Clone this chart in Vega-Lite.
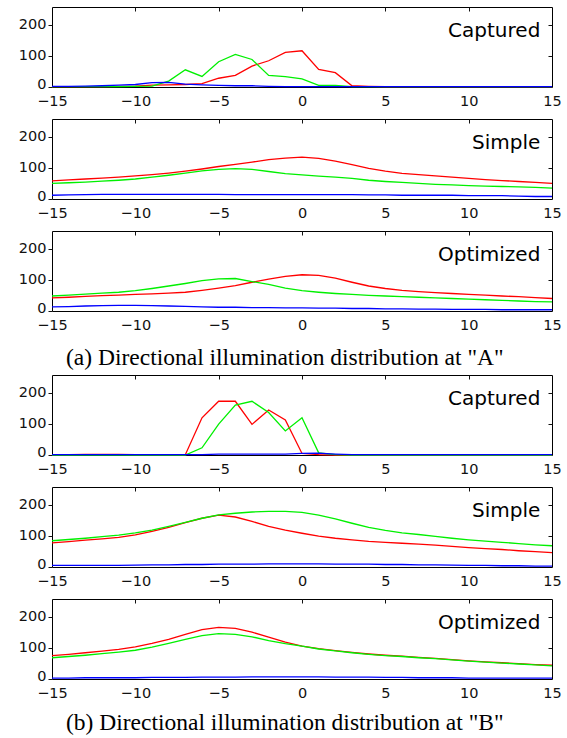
{
"$schema": "https://vega.github.io/schema/vega-lite/v6.json",
"background": "white",
"padding": {"top": 6, "left": 17, "right": 5, "bottom": 2},
"config": {
  "view": {"stroke": "black", "strokeWidth": 1},
  "axis": {"labelFont": "DejaVu Sans", "labelFontSize": 14.5, "labelColor": "#111", "tickColor": "#111", "domain": false, "grid": false, "labelFlush": false, "labelOverlap": false},
  "axisLeft": {"labelOffset": {"condition": {"test": "datum.value === 0", "value": -3}, "value": 0}},
  "line": {"strokeWidth": 1.3}
},
"datasets": {"d": [
{"p":"A1","a":-15,"r":1,"g":1,"b":2},{"p":"A1","a":-14,"r":1,"g":1,"b":2},{"p":"A1","a":-13,"r":1,"g":1,"b":3},{"p":"A1","a":-12,"r":1,"g":1,"b":4},{"p":"A1","a":-11,"r":2,"g":1,"b":6},{"p":"A1","a":-10,"r":3,"g":2,"b":8},{"p":"A1","a":-9,"r":6,"g":3,"b":14},{"p":"A1","a":-8,"r":7,"g":19,"b":15},{"p":"A1","a":-7,"r":8,"g":55,"b":9},{"p":"A1","a":-6,"r":11,"g":34,"b":7},{"p":"A1","a":-5,"r":28,"g":81,"b":5},{"p":"A1","a":-4,"r":37,"g":104,"b":4},{"p":"A1","a":-3,"r":67,"g":88,"b":4},{"p":"A1","a":-2,"r":84,"g":37,"b":2},{"p":"A1","a":-1,"r":111,"g":33,"b":1},{"p":"A1","a":0,"r":116,"g":26,"b":1},{"p":"A1","a":1,"r":56,"g":5,"b":1},{"p":"A1","a":2,"r":46,"g":5,"b":1},{"p":"A1","a":3,"r":4,"g":1,"b":1},{"p":"A1","a":4,"r":2,"g":1,"b":1},{"p":"A1","a":5,"r":1,"g":1,"b":1},{"p":"A1","a":6,"r":1,"g":1,"b":1},{"p":"A1","a":7,"r":1,"g":1,"b":1},{"p":"A1","a":8,"r":1,"g":1,"b":1},{"p":"A1","a":9,"r":1,"g":1,"b":1},{"p":"A1","a":10,"r":1,"g":1,"b":1},{"p":"A1","a":11,"r":1,"g":1,"b":1},{"p":"A1","a":12,"r":1,"g":1,"b":1},{"p":"A1","a":13,"r":1,"g":1,"b":1},{"p":"A1","a":14,"r":1,"g":1,"b":1},{"p":"A1","a":15,"r":1,"g":1,"b":1},
{"p":"A2","a":-15,"r":58,"g":50,"b":12},{"p":"A2","a":-14,"r":61,"g":52,"b":13},{"p":"A2","a":-13,"r":64,"g":54,"b":14},{"p":"A2","a":-12,"r":67,"g":57,"b":15},{"p":"A2","a":-11,"r":70,"g":60,"b":15},{"p":"A2","a":-10,"r":74,"g":64,"b":15},{"p":"A2","a":-9,"r":78,"g":70,"b":15},{"p":"A2","a":-8,"r":83,"g":76,"b":15},{"p":"A2","a":-7,"r":89,"g":83,"b":15},{"p":"A2","a":-6,"r":96,"g":90,"b":15},{"p":"A2","a":-5,"r":104,"g":95,"b":15},{"p":"A2","a":-4,"r":111,"g":97,"b":14},{"p":"A2","a":-3,"r":118,"g":95,"b":14},{"p":"A2","a":-2,"r":126,"g":88,"b":14},{"p":"A2","a":-1,"r":131,"g":81,"b":14},{"p":"A2","a":0,"r":134,"g":77,"b":14},{"p":"A2","a":1,"r":130,"g":73,"b":14},{"p":"A2","a":2,"r":121,"g":70,"b":14},{"p":"A2","a":3,"r":110,"g":66,"b":14},{"p":"A2","a":4,"r":98,"g":60,"b":13},{"p":"A2","a":5,"r":89,"g":56,"b":13},{"p":"A2","a":6,"r":82,"g":53,"b":12},{"p":"A2","a":7,"r":78,"g":50,"b":12},{"p":"A2","a":8,"r":74,"g":47,"b":12},{"p":"A2","a":9,"r":70,"g":45,"b":12},{"p":"A2","a":10,"r":66,"g":43,"b":11},{"p":"A2","a":11,"r":62,"g":41,"b":11},{"p":"A2","a":12,"r":59,"g":40,"b":11},{"p":"A2","a":13,"r":56,"g":39,"b":9},{"p":"A2","a":14,"r":53,"g":37,"b":8},{"p":"A2","a":15,"r":50,"g":35,"b":8},
{"p":"A3","a":-15,"r":42,"g":48,"b":13},{"p":"A3","a":-14,"r":44,"g":51,"b":14},{"p":"A3","a":-13,"r":47,"g":54,"b":16},{"p":"A3","a":-12,"r":49,"g":57,"b":17},{"p":"A3","a":-11,"r":51,"g":60,"b":18},{"p":"A3","a":-10,"r":53,"g":65,"b":18},{"p":"A3","a":-9,"r":55,"g":72,"b":17},{"p":"A3","a":-8,"r":57,"g":80,"b":16},{"p":"A3","a":-7,"r":60,"g":88,"b":15},{"p":"A3","a":-6,"r":66,"g":97,"b":13},{"p":"A3","a":-5,"r":73,"g":103,"b":12},{"p":"A3","a":-4,"r":81,"g":104,"b":12},{"p":"A3","a":-3,"r":92,"g":94,"b":11},{"p":"A3","a":-2,"r":102,"g":85,"b":11},{"p":"A3","a":-1,"r":111,"g":73,"b":10},{"p":"A3","a":0,"r":116,"g":65,"b":10},{"p":"A3","a":1,"r":114,"g":60,"b":9},{"p":"A3","a":2,"r":105,"g":56,"b":9},{"p":"A3","a":3,"r":92,"g":53,"b":8},{"p":"A3","a":4,"r":80,"g":50,"b":8},{"p":"A3","a":5,"r":72,"g":48,"b":7},{"p":"A3","a":6,"r":66,"g":46,"b":7},{"p":"A3","a":7,"r":62,"g":44,"b":6},{"p":"A3","a":8,"r":59,"g":42,"b":6},{"p":"A3","a":9,"r":56,"g":40,"b":5},{"p":"A3","a":10,"r":53,"g":38,"b":5},{"p":"A3","a":11,"r":51,"g":36,"b":5},{"p":"A3","a":12,"r":48,"g":34,"b":4},{"p":"A3","a":13,"r":46,"g":32,"b":4},{"p":"A3","a":14,"r":43,"g":30,"b":4},{"p":"A3","a":15,"r":40,"g":29,"b":4},
{"p":"B1","a":-15,"r":1,"g":0,"b":1},{"p":"B1","a":-14,"r":1,"g":0,"b":1},{"p":"B1","a":-13,"r":2,"g":0,"b":1},{"p":"B1","a":-12,"r":2,"g":0,"b":1},{"p":"B1","a":-11,"r":2,"g":0,"b":1},{"p":"B1","a":-10,"r":1,"g":0,"b":1},{"p":"B1","a":-9,"r":1,"g":0,"b":1},{"p":"B1","a":-8,"r":1,"g":0,"b":1},{"p":"B1","a":-7,"r":1,"g":0,"b":1},{"p":"B1","a":-6,"r":119,"g":23,"b":1},{"p":"B1","a":-5,"r":172,"g":99,"b":3},{"p":"B1","a":-4,"r":172,"g":160,"b":3},{"p":"B1","a":-3,"r":98,"g":172,"b":3},{"p":"B1","a":-2,"r":144,"g":136,"b":3},{"p":"B1","a":-1,"r":112,"g":77,"b":3},{"p":"B1","a":0,"r":5,"g":119,"b":5},{"p":"B1","a":1,"r":1,"g":7,"b":6},{"p":"B1","a":2,"r":0,"g":1,"b":3},{"p":"B1","a":3,"r":0,"g":0,"b":1},{"p":"B1","a":4,"r":0,"g":0,"b":1},{"p":"B1","a":5,"r":0,"g":0,"b":1},{"p":"B1","a":6,"r":0,"g":0,"b":1},{"p":"B1","a":7,"r":0,"g":0,"b":1},{"p":"B1","a":8,"r":0,"g":0,"b":1},{"p":"B1","a":9,"r":0,"g":0,"b":1},{"p":"B1","a":10,"r":0,"g":0,"b":1},{"p":"B1","a":11,"r":0,"g":0,"b":1},{"p":"B1","a":12,"r":0,"g":0,"b":1},{"p":"B1","a":13,"r":0,"g":0,"b":1},{"p":"B1","a":14,"r":0,"g":0,"b":1},{"p":"B1","a":15,"r":0,"g":0,"b":1},
{"p":"B2","a":-15,"r":77,"g":84,"b":5},{"p":"B2","a":-14,"r":81,"g":88,"b":5},{"p":"B2","a":-13,"r":86,"g":92,"b":5},{"p":"B2","a":-12,"r":90,"g":97,"b":5},{"p":"B2","a":-11,"r":95,"g":102,"b":5},{"p":"B2","a":-10,"r":103,"g":109,"b":6},{"p":"B2","a":-9,"r":114,"g":118,"b":7},{"p":"B2","a":-8,"r":127,"g":130,"b":7},{"p":"B2","a":-7,"r":142,"g":143,"b":8},{"p":"B2","a":-6,"r":156,"g":156,"b":8},{"p":"B2","a":-5,"r":166,"g":167,"b":9},{"p":"B2","a":-4,"r":160,"g":172,"b":9},{"p":"B2","a":-3,"r":146,"g":176,"b":9},{"p":"B2","a":-2,"r":130,"g":178,"b":10},{"p":"B2","a":-1,"r":118,"g":178,"b":10},{"p":"B2","a":0,"r":108,"g":175,"b":10},{"p":"B2","a":1,"r":99,"g":166,"b":10},{"p":"B2","a":2,"r":92,"g":154,"b":9},{"p":"B2","a":3,"r":87,"g":140,"b":9},{"p":"B2","a":4,"r":82,"g":127,"b":9},{"p":"B2","a":5,"r":79,"g":117,"b":8},{"p":"B2","a":6,"r":76,"g":109,"b":8},{"p":"B2","a":7,"r":73,"g":104,"b":7},{"p":"B2","a":8,"r":70,"g":98,"b":7},{"p":"B2","a":9,"r":66,"g":92,"b":6},{"p":"B2","a":10,"r":62,"g":87,"b":5},{"p":"B2","a":11,"r":59,"g":83,"b":5},{"p":"B2","a":12,"r":56,"g":79,"b":4},{"p":"B2","a":13,"r":52,"g":75,"b":4},{"p":"B2","a":14,"r":49,"g":71,"b":3},{"p":"B2","a":15,"r":46,"g":68,"b":3},
{"p":"B3","a":-15,"r":75,"g":68,"b":3},{"p":"B3","a":-14,"r":79,"g":72,"b":3},{"p":"B3","a":-13,"r":84,"g":76,"b":4},{"p":"B3","a":-12,"r":89,"g":81,"b":4},{"p":"B3","a":-11,"r":95,"g":86,"b":4},{"p":"B3","a":-10,"r":103,"g":92,"b":4},{"p":"B3","a":-9,"r":114,"g":102,"b":5},{"p":"B3","a":-8,"r":127,"g":114,"b":5},{"p":"B3","a":-7,"r":143,"g":127,"b":5},{"p":"B3","a":-6,"r":158,"g":139,"b":6},{"p":"B3","a":-5,"r":165,"g":145,"b":6},{"p":"B3","a":-4,"r":162,"g":143,"b":6},{"p":"B3","a":-3,"r":150,"g":135,"b":7},{"p":"B3","a":-2,"r":134,"g":123,"b":7},{"p":"B3","a":-1,"r":118,"g":113,"b":7},{"p":"B3","a":0,"r":105,"g":105,"b":7},{"p":"B3","a":1,"r":97,"g":96,"b":7},{"p":"B3","a":2,"r":91,"g":90,"b":6},{"p":"B3","a":3,"r":85,"g":84,"b":6},{"p":"B3","a":4,"r":80,"g":79,"b":6},{"p":"B3","a":5,"r":76,"g":75,"b":5},{"p":"B3","a":6,"r":73,"g":72,"b":5},{"p":"B3","a":7,"r":69,"g":68,"b":4},{"p":"B3","a":8,"r":66,"g":65,"b":4},{"p":"B3","a":9,"r":62,"g":61,"b":4},{"p":"B3","a":10,"r":58,"g":57,"b":3},{"p":"B3","a":11,"r":55,"g":54,"b":3},{"p":"B3","a":12,"r":52,"g":51,"b":3},{"p":"B3","a":13,"r":49,"g":48,"b":3},{"p":"B3","a":14,"r":46,"g":45,"b":3},{"p":"B3","a":15,"r":44,"g":42,"b":3}
]},
"spacing": 4,
"vconcat": [
{
 "title": {"text": "(a) Directional illumination distribution at \"A\"", "orient": "bottom", "anchor": "middle", "font": "Liberation Serif", "fontSize": 23.5, "fontWeight": "normal", "color": "black", "offset": 14, "dx": -5},
 "spacing": 10,
 "vconcat": [
  {"width": 500, "height": 80, "resolve": {"axis": {"x": "independent", "y": "independent"}}, "layer": [
   {"data": {"name": "d"}, "transform": [{"filter": "datum.p === 'A1'"}, {"fold": ["r", "g", "b"], "as": ["c", "v"]}],
    "mark": {"type": "line"},
    "encoding": {
     "x": {"field": "a", "type": "quantitative", "scale": {"domain": [-15, 15], "nice": false, "zero": false}, "axis": {"orient": "bottom", "values": [-15, -10, -5, 0, 5, 10, 15], "ticks": false, "labelPadding": 7, "title": null}},
     "y": {"field": "v", "type": "quantitative", "scale": {"domain": [0, 256], "nice": false}, "axis": {"orient": "left", "values": [0, 100, 200], "tickSize": 4, "labelPadding": 2, "title": null}},
     "color": {"field": "c", "type": "nominal", "scale": {"domain": ["r", "g", "b"], "range": ["#ff0000", "#00f000", "#0000ff"]}, "legend": null}}},
   {"data": {"values": [{"label": "Captured"}]},
    "mark": {"type": "text", "align": "right", "baseline": "middle", "font": "DejaVu Sans", "fontSize": 20, "color": "black"},
    "encoding": {
     "x": {"datum": 14.3, "type": "quantitative", "axis": {"orient": "top", "values": [-10, -5, 0, 5, 10], "labels": false, "tickSize": -4, "title": null}},
     "y": {"datum": 178, "type": "quantitative", "axis": {"orient": "right", "values": [100, 200], "labels": false, "tickSize": -4, "title": null}},
     "text": {"field": "label"}}}
  ]},
  {"width": 500, "height": 80, "resolve": {"axis": {"x": "independent", "y": "independent"}}, "layer": [
   {"data": {"name": "d"}, "transform": [{"filter": "datum.p === 'A2'"}, {"fold": ["r", "g", "b"], "as": ["c", "v"]}],
    "mark": {"type": "line"},
    "encoding": {
     "x": {"field": "a", "type": "quantitative", "scale": {"domain": [-15, 15], "nice": false, "zero": false}, "axis": {"orient": "bottom", "values": [-15, -10, -5, 0, 5, 10, 15], "ticks": false, "labelPadding": 7, "title": null}},
     "y": {"field": "v", "type": "quantitative", "scale": {"domain": [0, 256], "nice": false}, "axis": {"orient": "left", "values": [0, 100, 200], "tickSize": 4, "labelPadding": 2, "title": null}},
     "color": {"field": "c", "type": "nominal", "scale": {"domain": ["r", "g", "b"], "range": ["#ff0000", "#00f000", "#0000ff"]}, "legend": null}}},
   {"data": {"values": [{"label": "Simple"}]},
    "mark": {"type": "text", "align": "right", "baseline": "middle", "font": "DejaVu Sans", "fontSize": 20, "color": "black"},
    "encoding": {
     "x": {"datum": 14.3, "type": "quantitative", "axis": {"orient": "top", "values": [-10, -5, 0, 5, 10], "labels": false, "tickSize": -4, "title": null}},
     "y": {"datum": 178, "type": "quantitative", "axis": {"orient": "right", "values": [100, 200], "labels": false, "tickSize": -4, "title": null}},
     "text": {"field": "label"}}}
  ]},
  {"width": 500, "height": 80, "resolve": {"axis": {"x": "independent", "y": "independent"}}, "layer": [
   {"data": {"name": "d"}, "transform": [{"filter": "datum.p === 'A3'"}, {"fold": ["r", "g", "b"], "as": ["c", "v"]}],
    "mark": {"type": "line"},
    "encoding": {
     "x": {"field": "a", "type": "quantitative", "scale": {"domain": [-15, 15], "nice": false, "zero": false}, "axis": {"orient": "bottom", "values": [-15, -10, -5, 0, 5, 10, 15], "ticks": false, "labelPadding": 7, "title": null}},
     "y": {"field": "v", "type": "quantitative", "scale": {"domain": [0, 256], "nice": false}, "axis": {"orient": "left", "values": [0, 100, 200], "tickSize": 4, "labelPadding": 2, "title": null}},
     "color": {"field": "c", "type": "nominal", "scale": {"domain": ["r", "g", "b"], "range": ["#ff0000", "#00f000", "#0000ff"]}, "legend": null}}},
   {"data": {"values": [{"label": "Optimized"}]},
    "mark": {"type": "text", "align": "right", "baseline": "middle", "font": "DejaVu Sans", "fontSize": 20, "color": "black"},
    "encoding": {
     "x": {"datum": 14.3, "type": "quantitative", "axis": {"orient": "top", "values": [-10, -5, 0, 5, 10], "labels": false, "tickSize": -4, "title": null}},
     "y": {"datum": 178, "type": "quantitative", "axis": {"orient": "right", "values": [100, 200], "labels": false, "tickSize": -4, "title": null}},
     "text": {"field": "label"}}}
  ]}
 ]
},
{
 "title": {"text": "(b) Directional illumination distribution at \"B\"", "orient": "bottom", "anchor": "middle", "font": "Liberation Serif", "fontSize": 23.5, "fontWeight": "normal", "color": "black", "offset": 11, "dx": -5},
 "spacing": 10,
 "vconcat": [
  {"width": 500, "height": 80, "resolve": {"axis": {"x": "independent", "y": "independent"}}, "layer": [
   {"data": {"name": "d"}, "transform": [{"filter": "datum.p === 'B1'"}, {"fold": ["r", "g", "b"], "as": ["c", "v"]}],
    "mark": {"type": "line"},
    "encoding": {
     "x": {"field": "a", "type": "quantitative", "scale": {"domain": [-15, 15], "nice": false, "zero": false}, "axis": {"orient": "bottom", "values": [-15, -10, -5, 0, 5, 10, 15], "ticks": false, "labelPadding": 7, "title": null}},
     "y": {"field": "v", "type": "quantitative", "scale": {"domain": [0, 256], "nice": false}, "axis": {"orient": "left", "values": [0, 100, 200], "tickSize": 4, "labelPadding": 2, "title": null}},
     "color": {"field": "c", "type": "nominal", "scale": {"domain": ["r", "g", "b"], "range": ["#ff0000", "#00f000", "#0000ff"]}, "legend": null}}},
   {"data": {"values": [{"label": "Captured"}]},
    "mark": {"type": "text", "align": "right", "baseline": "middle", "font": "DejaVu Sans", "fontSize": 20, "color": "black"},
    "encoding": {
     "x": {"datum": 14.3, "type": "quantitative", "axis": {"orient": "top", "values": [-10, -5, 0, 5, 10], "labels": false, "tickSize": -4, "title": null}},
     "y": {"datum": 178, "type": "quantitative", "axis": {"orient": "right", "values": [100, 200], "labels": false, "tickSize": -4, "title": null}},
     "text": {"field": "label"}}}
  ]},
  {"width": 500, "height": 80, "resolve": {"axis": {"x": "independent", "y": "independent"}}, "layer": [
   {"data": {"name": "d"}, "transform": [{"filter": "datum.p === 'B2'"}, {"fold": ["r", "g", "b"], "as": ["c", "v"]}],
    "mark": {"type": "line"},
    "encoding": {
     "x": {"field": "a", "type": "quantitative", "scale": {"domain": [-15, 15], "nice": false, "zero": false}, "axis": {"orient": "bottom", "values": [-15, -10, -5, 0, 5, 10, 15], "ticks": false, "labelPadding": 7, "title": null}},
     "y": {"field": "v", "type": "quantitative", "scale": {"domain": [0, 256], "nice": false}, "axis": {"orient": "left", "values": [0, 100, 200], "tickSize": 4, "labelPadding": 2, "title": null}},
     "color": {"field": "c", "type": "nominal", "scale": {"domain": ["r", "g", "b"], "range": ["#ff0000", "#00f000", "#0000ff"]}, "legend": null}}},
   {"data": {"values": [{"label": "Simple"}]},
    "mark": {"type": "text", "align": "right", "baseline": "middle", "font": "DejaVu Sans", "fontSize": 20, "color": "black"},
    "encoding": {
     "x": {"datum": 14.3, "type": "quantitative", "axis": {"orient": "top", "values": [-10, -5, 0, 5, 10], "labels": false, "tickSize": -4, "title": null}},
     "y": {"datum": 178, "type": "quantitative", "axis": {"orient": "right", "values": [100, 200], "labels": false, "tickSize": -4, "title": null}},
     "text": {"field": "label"}}}
  ]},
  {"width": 500, "height": 80, "resolve": {"axis": {"x": "independent", "y": "independent"}}, "layer": [
   {"data": {"name": "d"}, "transform": [{"filter": "datum.p === 'B3'"}, {"fold": ["r", "g", "b"], "as": ["c", "v"]}],
    "mark": {"type": "line"},
    "encoding": {
     "x": {"field": "a", "type": "quantitative", "scale": {"domain": [-15, 15], "nice": false, "zero": false}, "axis": {"orient": "bottom", "values": [-15, -10, -5, 0, 5, 10, 15], "ticks": false, "labelPadding": 7, "title": null}},
     "y": {"field": "v", "type": "quantitative", "scale": {"domain": [0, 256], "nice": false}, "axis": {"orient": "left", "values": [0, 100, 200], "tickSize": 4, "labelPadding": 2, "title": null}},
     "color": {"field": "c", "type": "nominal", "scale": {"domain": ["r", "g", "b"], "range": ["#ff0000", "#00f000", "#0000ff"]}, "legend": null}}},
   {"data": {"values": [{"label": "Optimized"}]},
    "mark": {"type": "text", "align": "right", "baseline": "middle", "font": "DejaVu Sans", "fontSize": 20, "color": "black"},
    "encoding": {
     "x": {"datum": 14.3, "type": "quantitative", "axis": {"orient": "top", "values": [-10, -5, 0, 5, 10], "labels": false, "tickSize": -4, "title": null}},
     "y": {"datum": 178, "type": "quantitative", "axis": {"orient": "right", "values": [100, 200], "labels": false, "tickSize": -4, "title": null}},
     "text": {"field": "label"}}}
  ]}
 ]
}
]
}
